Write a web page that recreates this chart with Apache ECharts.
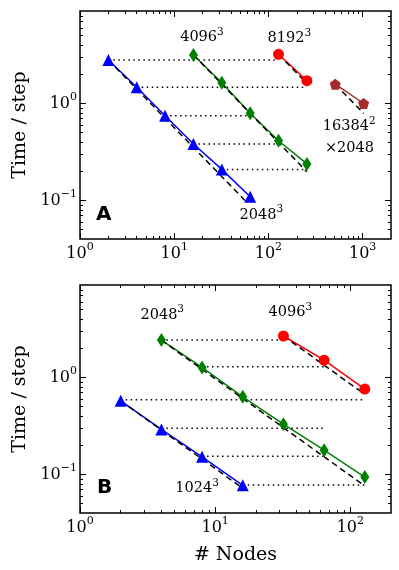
<!DOCTYPE html>
<html>
<head>
<meta charset="utf-8">
<script src="https://cdn.jsdelivr.net/npm/echarts@6/dist/echarts.min.js"></script>
<style>
  html, body { margin: 0; padding: 0; background: #fff; }
  #main { width: 399px; height: 570px; }
</style>
</head>
<body>
<div id="main"></div>
<script>
// ---- panel A ----
var aNodes2048 = [2, 4, 8, 16, 32, 64];
var aTime2048 = [2.81, 1.47, 0.748, 0.382, 0.209, 0.109];
var aNodes4096 = [16, 32, 64, 128, 256];
var aTime4096 = [3.17, 1.64, 0.792, 0.413, 0.238];
var aNodes8192 = [128, 256];
var aTime8192 = [3.22, 1.72];
var aNodes16384 = [512, 1024];
var aTime16384 = [1.58, 1.0];
// dotted guides: [from nodes, to nodes, time]
var aDotted = [[2, 128, 2.81], [4, 256, 1.47], [8, 64, 0.748], [16, 128, 0.382], [32, 256, 0.209]];
// dashed ideal scaling: [n0, t0, n1, t1]
var aIdeal = [[2, 2.81, 60, 0.094], [16, 3.17, 256, 0.198], [128, 3.22, 240, 1.72], [512, 1.58, 1024, 0.79]];
// text: [base, sup, nodes, time]
var aText = [['4096', '3', 19.7, 4.8], ['8192', '3', 167, 4.7], ['2048', '3', 84, 0.071],
             ['16384', '2', 721, 0.576], ['×2048', '', 725, 0.345]];

// ---- panel B ----
var bNodes1024 = [2, 4, 8, 16];
var bTime1024 = [0.574, 0.291, 0.152, 0.0773];
var bNodes2048 = [4, 8, 16, 32, 64, 128];
var bTime2048 = [2.43, 1.27, 0.632, 0.33, 0.178, 0.094];
var bNodes4096 = [32, 64, 128];
var bTime4096 = [2.68, 1.51, 0.759];
var bDotted = [[4, 32, 2.43], [8, 64, 1.29], [2, 128, 0.59], [4, 64, 0.3], [8, 64, 0.154], [16, 128, 0.078]];
var bIdeal = [[2, 0.574, 16, 0.072], [4, 2.43, 128, 0.076], [32, 2.68, 128, 0.67]];
var bText = [['2048', '3', 4.06, 4.4], ['4096', '3', 36, 4.66], ['1024', '3', 7.36, 0.0715]];

// axes
var xMajorA = [1, 10, 100, 1000];
var xMajorB = [1, 10, 100];
var yMajor = [0.1, 1];
var yMin = 0.04, yMax = 9;

function minorTicks(lo, hi) {
  var out = [];
  for (var d = 1e-3; d < 1e4; d *= 10) {
    for (var k = 2; k <= 9; k++) {
      var v = +(k * d).toPrecision(3);
      if (v > lo && v < hi) out.push(v);
    }
  }
  return out;
}

var serif = 'DejaVu Serif';
var rich = {
  b: { fontFamily: serif, fontSize: 16, lineHeight: 24, color: '#000' },
  s: { fontFamily: serif, fontSize: 11, lineHeight: 12, verticalAlign: 'top', color: '#000' }
};
function powLabel(v) {
  var e = Math.round(Math.log10(v));
  return '{b|10}{s|' + (e < 0 ? '\u2212' + (-e) : e) + '}';
}

function makeAxis(grid, pos, min, max, ticks, len, labels, extra) {
  var ax = {
    type: 'log', logBase: 10, gridIndex: grid, position: pos, min: min, max: max,
    axisLine: { show: false },
    splitLine: { show: false },
    minorTick: { show: false },
    axisTick: { show: true, inside: true, length: len, customValues: ticks, lineStyle: { color: '#000', width: 1 } },
    axisLabel: labels ? { show: true, customValues: labels, formatter: powLabel, rich: rich, margin: 3 } : { show: false }
  };
  for (var k in extra) ax[k] = extra[k];
  return ax;
}

var xAxes = [], yAxes = [];
function addPanel(grid, xMax, xMajor, xName) {
  var xMinor = minorTicks(1, xMax);
  var yMinor = minorTicks(yMin, yMax);
  var xName_ = xName ? { name: xName, nameLocation: 'middle', nameGap: 33,
    nameTextStyle: { fontFamily: serif, fontSize: 19, color: '#000' } } : {};
  xAxes.push(makeAxis(grid, 'bottom', 1, xMax, xMajor, 6, xMajor, xName_));
  xAxes.push(makeAxis(grid, 'bottom', 1, xMax, xMinor, 3));
  xAxes.push(makeAxis(grid, 'top', 1, xMax, xMajor, 6));
  xAxes.push(makeAxis(grid, 'top', 1, xMax, xMinor, 3));
  yAxes.push(makeAxis(grid, 'left', yMin, yMax, yMajor, 6, yMajor, {
    name: 'Time / step', nameLocation: 'middle', nameGap: 50, nameRotate: 90,
    nameTextStyle: { fontFamily: serif, fontSize: 19, color: '#000' }
  }));
  yAxes.push(makeAxis(grid, 'left', yMin, yMax, yMinor, 3));
  yAxes.push(makeAxis(grid, 'right', yMin, yMax, yMajor, 6));
  yAxes.push(makeAxis(grid, 'right', yMin, yMax, yMinor, 3));
}
addPanel(0, 2000, xMajorA, null);
addPanel(1, 200, xMajorB, '# Nodes');

var series = [];
function pairs(xs, ys) {
  return xs.map(function (x, i) { return [x, ys[i]]; });
}
function addData(ai, xs, ys, color, symbol, size) {
  series.push({
    type: 'line', xAxisIndex: ai, yAxisIndex: ai, data: pairs(xs, ys), symbol: 'none', z: 2,
    lineStyle: { color: color, width: 1.5 }
  });
  series.push({
    type: 'scatter', xAxisIndex: ai, yAxisIndex: ai, data: pairs(xs, ys), symbol: symbol, symbolSize: size, z: 4,
    itemStyle: { color: color, opacity: 1 }
  });
}
function addDotted(ai, list) {
  list.forEach(function (d) {
    series.push({
      type: 'line', xAxisIndex: ai, yAxisIndex: ai, data: [[d[0], d[2]], [d[1], d[2]]], symbol: 'none', z: 1,
      lineStyle: { color: '#000', width: 1.5, type: [1.5, 3.5] }
    });
  });
}
function addIdeal(ai, list) {
  list.forEach(function (d) {
    series.push({
      type: 'line', xAxisIndex: ai, yAxisIndex: ai, data: [[d[0], d[1]], [d[2], d[3]]], symbol: 'none', z: 3,
      lineStyle: { color: '#000', width: 1.5, type: [6, 4] }
    });
  });
}
function addText(ai, list, letter) {
  var data = list.map(function (t) { return { value: [t[2], t[3]], base: t[0], sup: t[1] }; });
  series.push({
    type: 'scatter', xAxisIndex: ai, yAxisIndex: ai, symbolSize: 0, z: 5, data: data,
    itemStyle: { opacity: 1 },
    label: {
      show: true, position: 'inside', opacity: 1,
      formatter: function (p) { return '{t|' + p.data.base + '}' + (p.data.sup ? '{u|' + p.data.sup + '}' : ''); },
      rich: {
        t: { fontFamily: serif, fontSize: 14.5, lineHeight: 22, color: '#000' },
        u: { fontFamily: serif, fontSize: 10.5, lineHeight: 11, verticalAlign: 'top', color: '#000' }
      }
    }
  });
  series.push({
    type: 'scatter', xAxisIndex: ai, yAxisIndex: ai, symbolSize: 0, z: 5, data: [letter.slice(1)],
    itemStyle: { opacity: 1 },
    label: { show: true, position: 'inside', opacity: 1, formatter: letter[0], fontFamily: 'DejaVu Sans', fontWeight: 'bold', fontSize: 20, color: '#000' }
  });
}

var pentagon = 'path://M0,-1 L0.951,-0.309 L0.588,0.809 L-0.588,0.809 L-0.951,-0.309 Z';

// panel A
addDotted(0, aDotted);
addData(0, aNodes2048, aTime2048, '#0000ff', 'triangle', 12);
addData(0, aNodes4096, aTime4096, '#008000', 'diamond', [9, 14]);
addData(0, aNodes8192, aTime8192, '#ff0000', 'circle', 11);
addData(0, aNodes16384, aTime16384, '#a52a2a', pentagon, 11);
addIdeal(0, aIdeal);
addText(0, aText, ['A', 1.79, 0.0707]);

// panel B
addDotted(4, bDotted);
addData(4, bNodes1024, bTime1024, '#0000ff', 'triangle', 12);
addData(4, bNodes2048, bTime2048, '#008000', 'diamond', [9, 14]);
addData(4, bNodes4096, bTime4096, '#ff0000', 'circle', 11);
addIdeal(4, bIdeal);
addText(4, bText, ['B', 1.52, 0.0732]);

var chart = echarts.init(document.getElementById('main'), null, { renderer: 'canvas' });
chart.setOption({
  animation: false,
  backgroundColor: '#fff',
  grid: [
    { left: 80, top: 11, width: 311, height: 228, show: true, borderColor: '#000', borderWidth: 1.5, backgroundColor: 'transparent' },
    { left: 80, top: 285, width: 311, height: 228, show: true, borderColor: '#000', borderWidth: 1.5, backgroundColor: 'transparent' }
  ],
  xAxis: xAxes,
  yAxis: yAxes,
  series: series
});
</script>
</body>
</html>
